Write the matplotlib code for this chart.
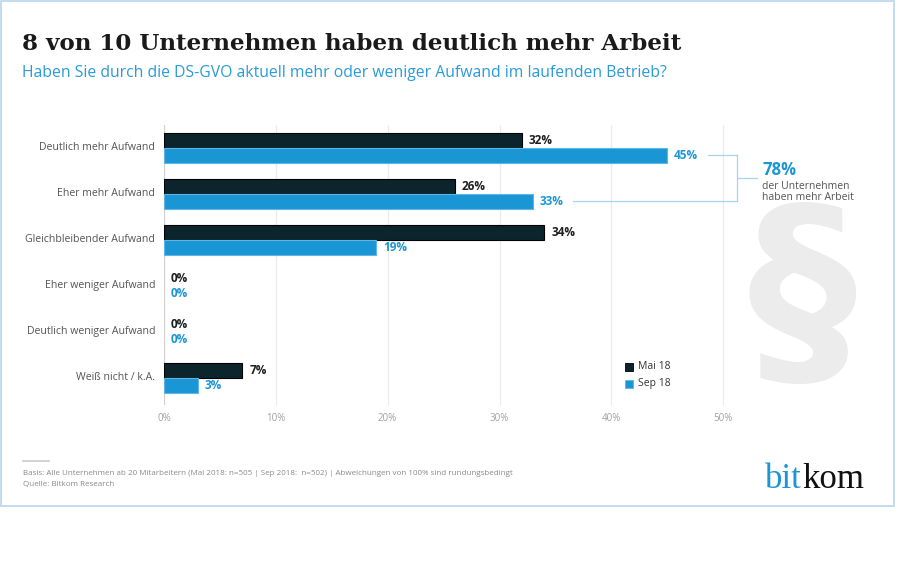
import matplotlib
matplotlib.use("Agg")
import matplotlib.pyplot as plt
from matplotlib.patches import Rectangle
from matplotlib.lines import Line2D

categories = ["Deutlich mehr Aufwand", "Eher mehr Aufwand", "Gleichbleibender Aufwand",
              "Eher weniger Aufwand", "Deutlich weniger Aufwand", "Weiß nicht / k.A."]
mai18 = [32, 26, 34, 0, 0, 7]
sep18 = [45, 33, 19, 0, 0, 3]
series_names = ["Mai 18", "Sep 18"]
xticks = [0, 10, 20, 30, 40, 50]
xtick_labels = ["0%", "10%", "20%", "30%", "40%", "50%"]
title = "8 von 10 Unternehmen haben deutlich mehr Arbeit"
subtitle = "Haben Sie durch die DS-GVO aktuell mehr oder weniger Aufwand im laufenden Betrieb?"
callout_value = "78%"
callout_text = "der Unternehmen\nhaben mehr Arbeit"
footer1 = "Basis: Alle Unternehmen ab 20 Mitarbeitern (Mai 2018: n=505 | Sep 2018:  n=502) | Abweichungen von 100% sind rundungsbedingt"
footer2 = "Quelle: Bitkom Research"

DARK = "#0c242b"
BLUE = "#1a96d5"
W, H = 900, 563
SANS = ["Open Sans", "DejaVu Sans"]

def fx(px):
    return px / W

def fy(py):
    return 1 - py / H

fig = plt.figure(figsize=(9, 5.63), dpi=100)
fig.patch.set_facecolor("white")

# frame
fig.patches.append(Rectangle((fx(0.5), fy(506)), fx(893.5), fy(1) - fy(506), transform=fig.transFigure,
                             fill=False, edgecolor="#bdd9ee", linewidth=1.3))

# big paragraph sign in background
fig.text(fx(802), fy(302), "§", fontsize=157, fontweight="bold", color="#ececec",
         ha="center", va="center", family="DejaVu Sans", zorder=0)

ax = fig.add_axes([fx(164), fy(405), fx(835) - fx(164), fy(125) - fy(405)])
ax.set_facecolor("none")
ax.set_xlim(0, 60)
ax.set_ylim(5.587, -0.5)
for s in ax.spines.values():
    s.set_visible(False)
ax.set_yticks([])
ax.set_xticks(xticks)
ax.set_xticklabels(xtick_labels, fontsize=7, color="#a0a0a0", family=SANS)
ax.tick_params(axis="x", length=0, pad=6)
for t in xticks:
    ax.axvline(t, color="#d0d0d0" if t == 0 else "#ebebeb", linewidth=0.9, zorder=0)

bh = 0.32
ys = list(range(len(categories)))
ax.barh([y - bh / 2 for y in ys], mai18, height=bh, color=DARK, edgecolor="#000000",
        linewidth=[0.8 if v > 0 else 0 for v in mai18], zorder=2)
ax.barh([y + bh / 2 for y in ys], sep18, height=bh, color=BLUE, edgecolor="#5fb5e6",
        linewidth=[0.8 if v > 0 else 0 for v in sep18], zorder=2)

for y, cat, a, b in zip(ys, categories, mai18, sep18):
    ax.text(-0.8, y, cat, ha="right", va="center", fontsize=7.6, color="#555555", family=SANS)
    ax.annotate(f"{a}%", (a, y - bh / 2), xytext=(7, 0), textcoords="offset pixels",
                ha="left", va="center", fontsize=8.5, fontweight="bold", color="#1e1e1e", family=SANS)
    ax.annotate(f"{b}%", (b, y + bh / 2), xytext=(7, 0), textcoords="offset pixels",
                ha="left", va="center", fontsize=8.5, fontweight="bold", color=BLUE, family=SANS)

# bracket callout (sum of first two Sep 18 values)
bx = 51.2
brc = "#a8d3ef"
ax.plot([sep18[0] + 3.6, bx], [0 + bh / 2, 0 + bh / 2], color=brc, lw=0.9, clip_on=False)
ax.plot([sep18[1] + 3.6, bx], [1 + bh / 2, 1 + bh / 2], color=brc, lw=0.9, clip_on=False)
ax.plot([bx, bx], [0 + bh / 2, 1 + bh / 2], color=brc, lw=0.9, clip_on=False)
ax.plot([bx, 53.0], [0.5 + bh / 2 - 0.01, 0.5 + bh / 2 - 0.01], color=brc, lw=0.9, clip_on=False)
ax.text(53.5, 0.48, callout_value, ha="left", va="center", fontsize=12, fontweight="bold",
        color=BLUE, family=SANS)
ax.text(53.5, 0.71, callout_text, ha="left", va="top", fontsize=7.5, color="#555555",
        family=SANS, linespacing=1.0)

# legend
for i, (name, col, ec) in enumerate(zip(series_names, [DARK, BLUE], ["#000000", "#5fb5e6"])):
    ly = 4.76 + i * 0.37
    ax.plot([41.55], [ly], marker="s", markersize=5.5, color=col, markeredgecolor=ec,
            markeredgewidth=0.6, clip_on=False)
    ax.text(42.4, ly, name, ha="left", va="center", fontsize=7.5, color="#333333", family=SANS)

# titles
fig.text(fx(22), fy(50), title, fontsize=16.6, fontweight="bold", color="#1a1a1a",
         family=["DejaVu Serif"], ha="left", va="baseline")
fig.text(fx(22), fy(77), subtitle, fontsize=11.3, color="#2a9bd9", family=SANS,
         ha="left", va="baseline")

# footer
fig.add_artist(Line2D([fx(23), fx(49)], [fy(461), fy(461)], color="#cccccc", lw=1.2,
                      transform=fig.transFigure))
fig.text(fx(23), fy(475), footer1, fontsize=5.75, color="#8a8a8a", family=SANS,
         ha="left", va="baseline")
fig.text(fx(23), fy(486), footer2, fontsize=5.75, color="#8a8a8a", family=SANS,
         ha="left", va="baseline")

# logo
lx = fx(765)
t1 = fig.text(lx, fy(488), "bit", fontsize=25, color="#1a96d5", family="Liberation Serif",
              ha="left", va="baseline")
fig.canvas.draw()
bb = t1.get_window_extent()
fig.text(bb.x1 / W, fy(488), "kom", fontsize=25, color="#111111", family="Liberation Serif",
         ha="left", va="baseline")

fig.savefig("out.png", dpi=100, facecolor="white")
